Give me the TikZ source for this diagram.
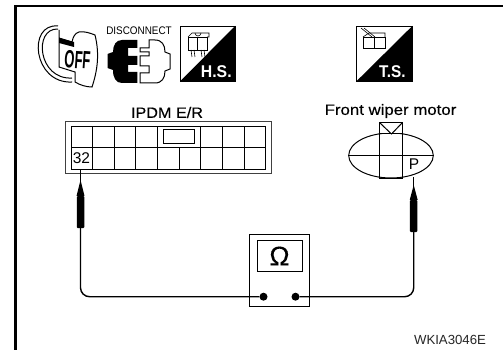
\documentclass[tikz,border=0pt]{standalone}
\usepackage{fontspec}
\setmainfont{Liberation Sans}
\newfontfamily\heavyfont[FakeBold=0.25]{Liberation Sans}
\usetikzlibrary{positioning}
\tikzset{
	frameline/.style={line width=2.5pt, line cap=butt},
	thinline/.style={line width=1pt},
	hairline/.style={line width=0.6pt},
	wire/.style={line width=1.4pt, rounded corners=9pt},
	grip/.style={fill=black, inner sep=0pt, rounded corners=1pt, minimum width=7.5pt, minimum height=32pt},
	termdot/.style={circle, fill=black, inner sep=0pt, minimum size=8pt},
	caption/.style={inner sep=0pt, font=\heavyfont\fontsize{15}{15}\selectfont},
	badge/.style={inner sep=0pt, text=white, font=\fontsize{17}{17}\selectfont\bfseries},
	pinlabel/.style={inner sep=0pt, font=\fontsize{15.5}{15.5}\selectfont},
}
\begin{document}
\begin{tikzpicture}[x=1pt, y=-1pt]
		\useasboundingbox (0,0) rectangle (503,350);
		% frame
		\draw [frameline] (15.3,350)--(15.3,5.8)--(503,5.8);
		% key
		\draw [thinline] (58,26) .. controls (27,23) and (33,84) .. (72,82);
		\draw [thinline] (58,29) .. controls (33,28) and (38,80) .. (72,78);
		\draw [thinline, fill=white] (59,30)--(59,67)--(75,72)--(75,82) .. controls (80,85) and (86,87) .. (92,87)
			.. controls (97,72) and (100,55) .. (95,35) .. controls (90,33) and (84,31) .. (79,32)
			.. controls (75,33) and (73,37) .. (72,42)--(59,38)--cycle;
		\fill (59,38)--(74,42)--(74,47)--(59,43)--cycle;
		\node [inner sep=0pt, rotate=-4, xscale=0.52, font=\fontsize{25}{25}\selectfont\bfseries] (offtext) at (77.5,60) {OFF};
		% connector halves
		\node [inner sep=0pt, xscale=0.9, font=\fontsize{11}{11}\selectfont] (disctext) at (139,31) {DISCONNECT};
		\fill (137.3,40)--(137.3,48)--(128,48)--(128,56)--(137.3,56)--(137.3,65)--(128,65)--(128,72)--(137.3,72)--(137.3,83)
			--(122,83) .. controls (116,83) and (113,78) .. (113,70)--(107.5,68)--(107.5,54)--(113,52)
			.. controls (113,45) and (116,40) .. (122,40)--cycle;
		\draw [thinline] (140,48)--(149,48)--(149,40)--(155,40) .. controls (162,40) and (165,45) .. (165,52)
			--(170,54)--(170,69)--(165,71) .. controls (165,78) and (162,83) .. (155,83)--(140,83)--(140,73)--(149,73)--(149,66)
			--(140,66)--(140,56)--(149,56)--(149,52)--(140,52)--cycle;
		% H.S. badge
		\draw [hairline] (180.5,26) rectangle (235,81);
		\fill (235,26)--(235,81)--(180.5,81)--cycle;
		\node [badge, xscale=0.93] (hstext) at (216.3,71.5) {H.S.};
		\draw [hairline] (188,37)--(207,37)--(207,50)--(188,50)--cycle;
		\draw [hairline] (188,37)--(192,33)--(209,33)--(209,37)--(207,37);
		\draw [hairline] (197,37)--(197,50);
		\draw [hairline] (195,33) arc (180:0:3);
		\foreach \i in {191,194,201,204}{
			\draw [hairline] (\i,50)--(\i+1,57);
		}
		% T.S. badge
		\draw [hairline] (356.7,26) rectangle (412.3,81);
		\fill (412.3,26)--(412.3,81)--(356.7,81)--cycle;
		\node [badge, xscale=0.9] (tstext) at (392.3,71.5) {T.S.};
		\draw [hairline] (363,37)--(385,37)--(385,48)--(363,48)--cycle;
		\draw [hairline] (363,37)--(369,33)--(385,33)--(385,37);
		\draw [hairline] (374,37)--(374,48);
		\foreach \i in {0,3}{
			\draw [hairline] (361+\i,28)--(372+\i,37);
		}
		% labels:
		\node [caption, xscale=1.08] (ipdmlabel) at (167,112.5) {IPDM E/R};
		\node [caption, xscale=1.12] (motorlabel) at (390.5,111) {Front wiper motor};
		\node [inner sep=0pt, text=black!85, font=\fontsize{13.2}{13.2}\selectfont] (partno) at (450,340) {WKIA3046E};
		% IPDM connector
		\draw [thinline, black!75] (65.5,122) rectangle (271,173.5);
		\draw [thinline] (71,127) rectangle (265.7,169);
		\draw [thinline] (71,147.5)--(265.7,147.5);
		\foreach \i in {1,2,3,4,5,6,7,8}{
			\draw [thinline] (71+21.63*\i,147.5)--(71+21.63*\i,169);
		}
		\foreach \i in {1,2,3,4,6,7,8}{
			\draw [thinline] (71+21.63*\i,127)--(71+21.63*\i,147.5);
		}
		\draw [thinline] (163.5,130) rectangle (194.5,143);
		\node [pinlabel] (pinleft) at (81.5,158) {32};
		% motor connector
		\draw [thinline] (391,155.5) ellipse (42.3 and 22.5);
		\draw [hairline] (348.7,155.5)--(433.3,155.5);
		\draw [thinline, fill=white] (379,123) rectangle (402.3,134);
		\draw [thinline] (379,134)--(379,178)--(402.3,178)--(402.3,134);
		\draw [thinline] (380,123)--(391.5,134)--(402,123);
		\node [pinlabel] (pinright) at (414,164.5) {P};
		% tester
		\node [draw, thinline, inner sep=0pt, minimum width=59.5pt, minimum height=72.7pt] (meter) at (279.3,270.4) {};
		\node [draw, hairline, inner sep=0pt, minimum width=45pt, minimum height=30.3pt] (dial) at (279.5,255.8) {};
		\node [inner sep=0pt, font=\heavyfont\fontsize{27}{27}\selectfont] (ohm) at (279.5,256) {Ω};
		\node [termdot] (termleft) at (263.5,296.7) {};
		\node [termdot] (termright) at (295.5,296.7) {};
		% probes
		\node [grip] (gripleft) at (80.5,212) {};
		\node [grip] (gripright) at (413.7,216) {};
		\coordinate (tipleft) at (80.5,170);
		\coordinate (tipright) at (413.7,177);
		\draw [thinline] (tipleft)--(gripleft.north);
		\draw [thinline] (tipright)--(gripright.north);
		\fill (gripleft.north west)--(80.5,180)--(gripleft.north east)--cycle;
		\fill (gripright.north west)--(413.7,185)--(gripright.north east)--cycle;
		\draw [wire] (gripleft.south)|-(termleft);
		\draw [wire] (termright)-|(gripright.south);
	\end{tikzpicture}
\end{document}
